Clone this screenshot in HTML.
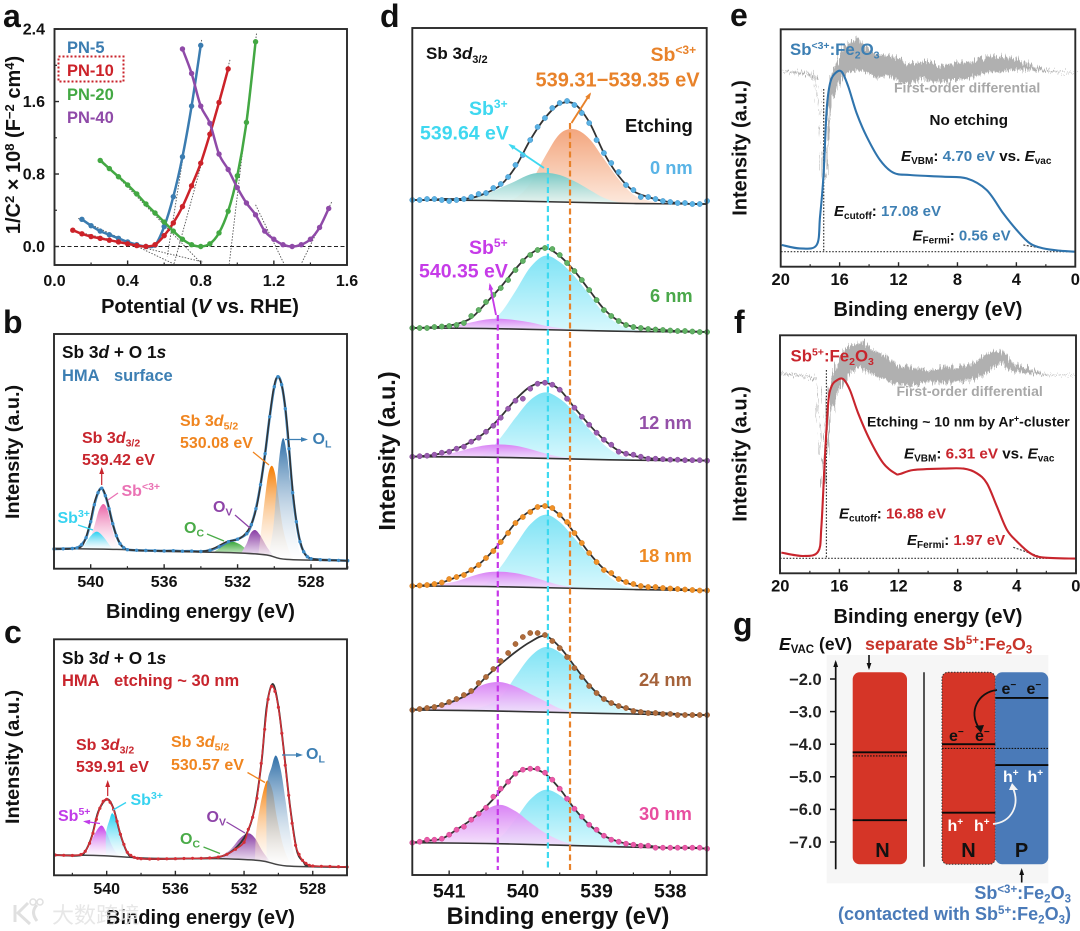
<!DOCTYPE html>
<html lang="en">
<head>
<meta charset="utf-8">
<title>Sb:Fe2O3 characterisation figure</title>
<style>
html,body{margin:0;padding:0;background:#fff}
svg{display:block}
text{font-family:"Liberation Sans","Noto Sans CJK SC",sans-serif;font-weight:bold}
.it{font-style:italic}
</style>
</head>
<body>
<svg id="chart" width="1080" height="931" viewBox="0 0 1080 931" xmlns="http://www.w3.org/2000/svg">
<defs id="defs">
<filter id="noisy" x="-3%" y="-10%" width="106%" height="120%">
<feTurbulence type="fractalNoise" baseFrequency="0.75 0.04" numOctaves="2" seed="3" result="n"/>
<feDisplacementMap in="SourceGraphic" in2="n" scale="13" xChannelSelector="R" yChannelSelector="G"/>
</filter>
</defs>
<rect width="1080" height="931" fill="#fff"/>
<g id="marks"></g>

<g font-size="32" fill="#111">
<text x="3" y="27">a</text>
<text x="3" y="333">b</text>
<text x="4" y="643">c</text>
<text x="380" y="27">d</text>
<text x="730" y="26">e</text>
<text x="734" y="333">f</text>
<text x="733" y="635">g</text>
</g>

<g>
<text x="200" y="313" font-size="20" text-anchor="middle" fill="#111">Potential (<tspan class="it">V</tspan> vs. RHE)</text>
<text transform="translate(20,145) rotate(-90)" font-size="20" text-anchor="middle" fill="#111">1/C<tspan dy="-6" font-size="13">2</tspan><tspan dy="6"> × 10</tspan><tspan dy="-6" font-size="13">8</tspan><tspan dy="6"> (F</tspan><tspan dy="-6" font-size="13">−2</tspan><tspan dy="6"> cm</tspan><tspan dy="-6" font-size="13">4</tspan><tspan dy="6">)</tspan></text>
<text x="67" y="53" font-size="16.5" fill="#3b7cb0">PN-5</text>
<rect x="58.5" y="56.5" width="65" height="25" fill="none" stroke="#c9232b" stroke-width="2" stroke-dasharray="2 2"/>
<text x="67" y="76" font-size="16.5" fill="#cc2229">PN-10</text>
<text x="67" y="100" font-size="16.5" fill="#43a843">PN-20</text>
<text x="67" y="123" font-size="16.5" fill="#8f4aa8">PN-40</text>
</g>

<g>
<text x="200.5" y="618" font-size="20" text-anchor="middle" fill="#111">Binding energy (eV)</text>
<text transform="translate(19,452) rotate(-90)" font-size="19.8" text-anchor="middle" fill="#111">Intensity (a.u.)</text>
<text x="62" y="358" font-size="17.3" fill="#111">Sb 3<tspan class="it">d</tspan> + O 1<tspan class="it">s</tspan></text>
<text x="62" y="381" font-size="16.5" fill="#3d7fb3">HMA</text>
<text x="114" y="381" font-size="16.5" fill="#3d7fb3">surface</text>
<text x="82" y="443" font-size="16" fill="#c8252d">Sb 3<tspan class="it">d</tspan><tspan dy="3.5" font-size="10.5">3/2</tspan></text>
<text x="82" y="465" font-size="16" fill="#c8252d">539.42 eV</text>
<text x="180" y="426" font-size="16" fill="#f0851f">Sb 3<tspan class="it">d</tspan><tspan dy="3.5" font-size="10.5">5/2</tspan></text>
<text x="180" y="448" font-size="16" fill="#f0851f">530.08 eV</text>
<text x="312.5" y="444" font-size="16" fill="#3d7fb3">O<tspan dy="3.5" font-size="10.5">L</tspan></text>
<text x="121.5" y="496" font-size="16" fill="#ea72b4">Sb<tspan dy="-6" font-size="10.5">&lt;3+</tspan></text>
<text x="57.5" y="523" font-size="16" fill="#37d3f0">Sb<tspan dy="-6" font-size="10.5">3+</tspan></text>
<text x="213" y="512" font-size="16" fill="#8e44a8">O<tspan dy="3.5" font-size="10.5">V</tspan></text>
<text x="184" y="533" font-size="16" fill="#4aab48">O<tspan dy="3.5" font-size="10.5">C</tspan></text>
</g>

<g>
<text x="200.5" y="924" font-size="20" text-anchor="middle" fill="#111">Binding energy (eV)</text>
<text transform="translate(19,757) rotate(-90)" font-size="19.8" text-anchor="middle" fill="#111">Intensity (a.u.)</text>
<text x="62" y="664" font-size="17.3" fill="#111">Sb 3<tspan class="it">d</tspan> + O 1<tspan class="it">s</tspan></text>
<text x="62" y="686" font-size="16.5" fill="#c8252d">HMA</text>
<text x="114" y="686" font-size="16.5" fill="#c8252d">etching ~ 30 nm</text>
<text x="76" y="750" font-size="16" fill="#c8252d">Sb 3<tspan class="it">d</tspan><tspan dy="3.5" font-size="10.5">3/2</tspan></text>
<text x="76" y="772" font-size="16" fill="#c8252d">539.91 eV</text>
<text x="171" y="747" font-size="16" fill="#f0851f">Sb 3<tspan class="it">d</tspan><tspan dy="3.5" font-size="10.5">5/2</tspan></text>
<text x="171" y="770" font-size="16" fill="#f0851f">530.57 eV</text>
<text x="306" y="759" font-size="16" fill="#3d7fb3">O<tspan dy="3.5" font-size="10.5">L</tspan></text>
<text x="58" y="821" font-size="16" fill="#c03be8">Sb<tspan dy="-6" font-size="10.5">5+</tspan></text>
<text x="130.5" y="805" font-size="16" fill="#37d3f0">Sb<tspan dy="-6" font-size="10.5">3+</tspan></text>
<text x="206.5" y="822" font-size="16" fill="#8e44a8">O<tspan dy="3.5" font-size="10.5">V</tspan></text>
<text x="180" y="844" font-size="16" fill="#4aab48">O<tspan dy="3.5" font-size="10.5">C</tspan></text>
</g>

<g>
<text x="558" y="924" font-size="23.6" text-anchor="middle" fill="#111">Binding energy (eV)</text>
<text transform="translate(395,451) rotate(-90)" font-size="23.5" text-anchor="middle" fill="#111">Intensity (a.u.)</text>
<text x="426" y="59" font-size="17" fill="#111">Sb 3<tspan class="it">d</tspan><tspan dy="4" font-size="11">3/2</tspan></text>
<text x="650.5" y="61" font-size="19.5" fill="#e8822a">Sb<tspan dy="-7" font-size="12">&lt;3+</tspan></text>
<text x="535.5" y="86.5" font-size="20" fill="#e8822a">539.31−539.35 eV</text>
<text x="625" y="132" font-size="18.5" fill="#111">Etching</text>
<text x="469" y="115" font-size="19.5" fill="#3fd8f0">Sb<tspan dy="-7" font-size="12">3+</tspan></text>
<text x="420" y="139.5" font-size="19.5" fill="#3fd8f0">539.64 eV</text>
<text x="469" y="254" font-size="19.5" fill="#c63be8">Sb<tspan dy="-7" font-size="12">5+</tspan></text>
<text x="419" y="277.5" font-size="19.5" fill="#c63be8">540.35 eV</text>
<text x="650" y="174" font-size="18.3" fill="#5ab4e6">0 nm</text>
<text x="650" y="302" font-size="18.3" fill="#4aa84a">6 nm</text>
<text x="639" y="429" font-size="18.3" fill="#9450a8">12 nm</text>
<text x="639" y="562" font-size="18.3" fill="#ee8a24">18 nm</text>
<text x="639" y="686" font-size="18.3" fill="#a5623a">24 nm</text>
<text x="639" y="820" font-size="18.3" fill="#e84ea0">30 nm</text>
</g>

<g>
<text x="928" y="316" font-size="20" text-anchor="middle" fill="#111">Binding energy (eV)</text>
<text transform="translate(746.5,148) rotate(-90)" font-size="20" text-anchor="middle" fill="#111">Intensity (a.u.)</text>
<text x="790" y="55" font-size="16.8" fill="#3d7fb3">Sb<tspan dy="-6" font-size="10.5">&lt;3+</tspan><tspan dy="6">:Fe</tspan><tspan dy="3.5" font-size="10.5">2</tspan><tspan dy="-3.5">O</tspan><tspan dy="3.5" font-size="10.5">3</tspan></text>
<text x="894" y="92.5" font-size="14" fill="#a8a8a8">First-order differential</text>
<text x="929.5" y="125" font-size="15.2" fill="#111">No etching</text>
<text x="901" y="161" font-size="15.2" fill="#111"><tspan class="it">E</tspan><tspan dy="3" font-size="10">VBM</tspan><tspan dy="-3">: </tspan><tspan fill="#3d7fb3">4.70 eV</tspan> vs. <tspan class="it">E</tspan><tspan dy="3" font-size="10">vac</tspan></text>
<text x="834" y="216" font-size="15" fill="#111"><tspan class="it">E</tspan><tspan dy="3" font-size="10">cutoff</tspan><tspan dy="-3">: </tspan><tspan fill="#3d7fb3">17.08 eV</tspan></text>
<text x="912.5" y="240.5" font-size="15" fill="#111"><tspan class="it">E</tspan><tspan dy="3" font-size="10">Fermi</tspan><tspan dy="-3">: </tspan><tspan fill="#3d7fb3">0.56 eV</tspan></text>
</g>

<g>
<text x="928" y="623" font-size="20" text-anchor="middle" fill="#111">Binding energy (eV)</text>
<text transform="translate(746.5,454) rotate(-90)" font-size="20" text-anchor="middle" fill="#111">Intensity (a.u.)</text>
<text x="790.5" y="361.5" font-size="16.8" fill="#c8252d">Sb<tspan dy="-6" font-size="10.5">5+</tspan><tspan dy="6">:Fe</tspan><tspan dy="3.5" font-size="10.5">2</tspan><tspan dy="-3.5">O</tspan><tspan dy="3.5" font-size="10.5">3</tspan></text>
<text x="896.5" y="396" font-size="14" fill="#a8a8a8">First-order differential</text>
<text x="867" y="426.5" font-size="14" fill="#111">Etching ~ 10 nm by Ar<tspan dy="-5" font-size="9">+</tspan><tspan dy="5">-cluster</tspan></text>
<text x="904" y="458.5" font-size="15.2" fill="#111"><tspan class="it">E</tspan><tspan dy="3" font-size="10">VBM</tspan><tspan dy="-3">: </tspan><tspan fill="#c8252d">6.31 eV</tspan> vs. <tspan class="it">E</tspan><tspan dy="3" font-size="10">vac</tspan></text>
<text x="839" y="518.5" font-size="15" fill="#111"><tspan class="it">E</tspan><tspan dy="3" font-size="10">cutoff</tspan><tspan dy="-3">: </tspan><tspan fill="#c8252d">16.88 eV</tspan></text>
<text x="907" y="545" font-size="15" fill="#111"><tspan class="it">E</tspan><tspan dy="3" font-size="10">Fermi</tspan><tspan dy="-3">: </tspan><tspan fill="#c8252d">1.97 eV</tspan></text>
</g>

<g>
<text x="779" y="650" font-size="17.5" fill="#111"><tspan class="it">E</tspan><tspan dy="3" font-size="11.5">VAC</tspan><tspan dy="-3"> (eV)</tspan></text>
<text x="865" y="650" font-size="17.8" fill="#c8352b">separate Sb<tspan dy="-6" font-size="11.5">5+</tspan><tspan dy="6">:Fe</tspan><tspan dy="3.5" font-size="11.5">2</tspan><tspan dy="-3.5">O</tspan><tspan dy="3.5" font-size="11.5">3</tspan></text>
<text x="1071" y="899" font-size="18" text-anchor="end" fill="#4a7ab8">Sb<tspan dy="-6" font-size="11.5">&lt;3+</tspan><tspan dy="6">:Fe</tspan><tspan dy="3.5" font-size="11.5">2</tspan><tspan dy="-3.5">O</tspan><tspan dy="3.5" font-size="11.5">3</tspan></text>
<text x="1071" y="920" font-size="18" text-anchor="end" fill="#4a7ab8">(contacted with Sb<tspan dy="-6" font-size="11.5">5+</tspan><tspan dy="6">:Fe</tspan><tspan dy="3.5" font-size="11.5">2</tspan><tspan dy="-3.5">O</tspan><tspan dy="3.5" font-size="11.5">3</tspan><tspan dy="-3.5">)</tspan></text>
</g>
<g id="g-top">
<text x="949" y="741" font-size="16" fill="#111">e<tspan dy="-6" font-size="10">−</tspan></text>
<text x="975" y="741" font-size="16" fill="#111">e<tspan dy="-6" font-size="10">−</tspan></text>
<text x="1001.5" y="694" font-size="16" fill="#111">e<tspan dy="-6" font-size="10">−</tspan></text>
<text x="1026.5" y="694" font-size="16" fill="#111">e<tspan dy="-6" font-size="10">−</tspan></text>
<text x="1003" y="782" font-size="16" fill="#fff">h<tspan dy="-6" font-size="10">+</tspan></text>
<text x="1027.5" y="782" font-size="16" fill="#fff">h<tspan dy="-6" font-size="10">+</tspan></text>
<text x="947.5" y="831" font-size="16" fill="#fff">h<tspan dy="-6" font-size="10">+</tspan></text>
<text x="974" y="831" font-size="16" fill="#fff">h<tspan dy="-6" font-size="10">+</tspan></text>
<text x="882.5" y="857" font-size="20" text-anchor="middle" fill="#111">N</text>
<text x="968.5" y="857" font-size="20" text-anchor="middle" fill="#111">N</text>
<text x="1021.5" y="857" font-size="20" text-anchor="middle" fill="#111">P</text>
</g>

<g opacity="0.88">
<path d="M15 905 V922 M28 903 L18 913 L30 924 M37 905 Q30 912 37 921" fill="none" stroke="#dcdcdc" stroke-width="3"/>
<circle cx="33" cy="902" r="3" fill="none" stroke="#dcdcdc" stroke-width="1.5"/>
<circle cx="40" cy="902" r="3" fill="none" stroke="#dcdcdc" stroke-width="1.5"/>
<text x="52" y="923" font-size="22" fill="#e4e4e4" style="font-weight:normal">大数跨境</text>
</g>

<script>
// ---------- Panel a: Mott-Schottky ----------
const aPotential5 = [0.15,0.2,0.25,0.3,0.35,0.4,0.45,0.5,0.55,0.6,0.65,0.7,0.75,0.8];
const aPN5 = [0.30,0.23,0.17,0.13,0.09,0.05,0.02,0,0.015,0.22,0.55,0.99,1.55,2.22];
const aPotential10 = [0.1,0.15,0.2,0.25,0.3,0.35,0.4,0.45,0.5,0.55,0.6,0.65,0.7,0.75,0.8,0.85,0.9,0.95];
const aPN10 = [0.18,0.14,0.11,0.09,0.07,0.05,0.03,0.01,0,0.02,0.12,0.26,0.44,0.67,0.92,1.24,1.59,1.96];
const aPotential20 = [0.25,0.3,0.35,0.4,0.45,0.5,0.55,0.6,0.65,0.7,0.75,0.8,0.85,0.9,0.95,1.0,1.05,1.1];
const aPN20 = [0.95,0.86,0.77,0.68,0.58,0.47,0.37,0.27,0.17,0.08,0.02,0,0.03,0.15,0.39,0.78,1.37,2.26];
const aPotential40 = [0.7,0.75,0.8,0.85,0.9,0.95,1.0,1.05,1.1,1.15,1.2,1.25,1.3,1.35,1.4,1.45,1.5];
const aPN40 = [2.18,1.91,1.55,1.36,1.02,0.85,0.65,0.48,0.35,0.17,0.08,0.02,0,0.02,0.08,0.21,0.42];
const aTangentV = [[0.805,0.617],[0.96,0.654],[1.105,0.956],[1.516,1.35],[1.1,1.26],[0.25,0.805],[0.13,0.65],[0.09,0.81]];
const aTangentY = [[2.28,-0.11],[2.06,-0.19],[2.35,-0.19],[0.49,-0.19],[0.46,-0.21],[0.97,-0.19],[0.31,-0.19],[0.18,-0.17]];
const aXTickLabels = ['0.0','0.4','0.8','1.2','1.6'];
const aYTickLabels = ['0.0','0.8','1.6','2.4'];

// ---------- Panel b: XPS surface ----------
const bTickLabels = ['540','536','532','528'];
const bFitBE = [541.98,541.31,540.58,540.31,540.04,539.76,539.40,539.09,538.86,538.58,538.31,538.04,537.31,535.86,534.04,533.32,532.59,531.87,531.32,530.96,530.60,530.32,530.05,529.81,529.54,529.29,529.05,528.78,528.51,528.24,527.69,526.06];
const bFit = [19.7,19.7,21.3,28.7,45.3,68.7,80.3,67,48.7,32,22.7,19.3,18,18,17.3,20.3,27,30.3,42,62,102,142,178.7,192,178.7,142,88.7,45.3,22,12.7,9.3,8];
const bDataBE = [542,541.5,541,540.75,540.5,540.25,540,539.8,539.6,539.4,539.2,539,538.8,538.6,538.4,538.2,538,537.5,537,536.5,536,535.5,535,534.5,534,533.5,533,532.5,532,531.5,531.25,531,530.75,530.5,530.25,530,529.8,529.6,529.4,529.2,529,528.8,528.6,528.4,528.2,528,527.5,527,526.5,526];
const bData = [19.7,19.9,20.2,20.8,24,31,47,64,76,80.5,73,60,45,33,25,21,19,18.4,18.2,18,17.7,18,17.5,17.6,17.2,18.5,22,27,29.5,35,44,60,84,115,152,182,192,184,160,120,76,47,27,17,12,10,9,8.6,8.3,8];
const bBaseBE = [541.98,538.58,535.86,532.23,530.41,529.32,526.06];
const bBase = [20.3,19.3,17.3,16,13.7,9.3,8];
const bPinkBE = [540.31,540.04,539.76,539.55,539.31,539.09,538.86,538.62,538.37];
const bPink = [20.3,28.7,45.3,58.7,64.7,58.7,42,27,19.3];
const bCyanBE = [540.49,540.22,539.95,539.64,539.31,539.04,538.80];
const bCyan = [20,27,33.7,37,32,25.3,19.3];
const bGreenBE = [533.32,532.87,532.50,532.23,531.87,531.50,531.14];
const bGreen = [16.3,22,26,27,24.3,19.3,16.3];
const bVioletBE = [531.78,531.50,531.29,531.05,530.78,530.41,530.14];
const bViolet = [16.3,25.3,35.3,38.7,33.7,22,15.3];
const bOrangeBE = [530.87,530.69,530.50,530.32,530.14,529.96,529.78,529.51,529.14,528.87];
const bOrange = [13.7,42,72,95.3,103,95.3,72,38.7,15.3,10.3];
const bBlueBE = [530.32,530.05,529.78,529.54,529.32,529.11,528.87,528.60,528.33];
const bBlue = [13.7,42,102,130.3,115.3,82,42,15.3,9.3];

// ---------- Panel c: XPS etched ----------
const cFitBE = [543.07,541.65,541.26,540.87,540.49,540,539.61,539.22,538.83,538.45,537.48,535.53,533.59,532.62,531.84,531.36,530.97,530.68,530.33,530,529.71,529.32,528.93,528.54,528.16,526.02];
const cFit = [20.3,19.7,23.7,38.7,63.7,76,67,42,23.7,18,16.3,16.7,18,25.3,42,68.7,115.3,168.7,191.3,168.7,128.7,68.7,25.3,13.7,9.3,8.3];
const cDataBE = [543,542.5,542,541.5,541.25,541,540.8,540.6,540.4,540.2,540,539.8,539.6,539.4,539.2,539,538.8,538.6,538.4,538.2,538,537.5,537,536.5,536,535.5,535,534.5,534,533.5,533,532.5,532,531.75,531.5,531.25,531,530.8,530.6,530.4,530.2,530,529.8,529.6,529.4,529.2,529,528.8,528.6,528.4,528.2,528,527.5,527,526.5,526];
const cData = [20.3,20,19.8,20.8,24,32,42,56,67,74,76,73,66,54,41,31,23,20,18,17,16.6,16.3,16.3,16.5,16.6,16.8,17,17,17.3,18.2,21,26,33,46,58,77,112,146,176,189,184,168,142,110,80,52,30,21,15,12,10,9.3,9,8.8,8.6,8.3];
const cBaseBE = [543.07,540.39,537.48,533.59,531.07,529.51,526.02];
const cBase = [20.3,19.7,17,16.7,14.7,9.3,8.3];
const cPurpleBE = [541.36,541.07,540.78,540.33,540,539.71,539.42,539.13];
const cPurple = [20,25.3,38.7,49.7,42,30.3,22,18];
const cCyanBE = [540.04,540.04,539.84,539.67,539.42,539.18,538.87,538.54];
const cCyan = [18.7,42,55.3,62,53.7,38.7,23.7,18];
const cGreenBE = [533.59,533.01,532.23];
const cGreen = [18.7,20,16.7];
const cVioletBE = [533.50,532.82,532.23,531.75,531.36,530.97,530.58];
const cViolet = [18,25.3,37,42,37,25.3,16];
const cOrangeBE = [531.36,531.30,531.07,530.78,530.58,530.33,530.10,529.71,529.32];
const cOrange = [15.3,42,68.7,90.3,94.3,83.7,58.7,28.7,12];
const cBlueBE = [530.68,530.68,530.39,530.14,529.86,529.59,529.32,529.03];
const cBlue = [15.3,85.3,108.7,119.7,105.3,75.3,42,15.3];

// ---------- Panel d: Sb 3d3/2 depth profile ----------
const dTickLabels = ['541','540','539','538'];
const dDotBE = [541.5,541.4,541.3,541.2,541.1,541,540.9,540.8,540.7,540.6,540.5,540.4,540.3,540.2,540.1,540,539.9,539.8,539.7,539.6,539.5,539.4,539.3,539.2,539.1,539,538.9,538.8,538.7,538.6,538.5,538.4,538.3,538.2,538.1,538,537.9,537.8,537.7,537.6,537.5];
const dFitBE = [541.5,541.3,541.1,540.9,540.7,540.5,540.3,540.1,539.9,539.7,539.5,539.3,539.1,538.9,538.7,538.5,538.3,538.1,537.9,537.7,537.5];
const dBaseBE = [541.5,540.5,539.5,538.5,537.5];
const dDots0 = [0,0,1,1,0,-1,0,1,3,6,7,12,16,23,35,45,60,73,82,92,97,99,95,87,77,60,47,37,28,15,10,3,3,1,-1,-2,-3,-3,-4,-4,-1];
const dFit0 = [0,0,1,1,2,7,15,33,60,82,96,96,78,47,24,9,3,-1,-3,-4,-4];
const dOrange0 = [0,0,0,0,0,0,0,3,18,45,68,73,64,44,24,9,3,0,0,0,0];
const dTeal0 = [0,0,0,1,2,6,13,20,27,29,27,21,13,5,1,0,0,0,0,0,0];
const dBase0 = [0,-0.5,-2,-3.5,-4];
const dDots6 = [0,0,0,1,1.5,2,3,5,12,18,26,33,40,48,58,67,73,78,80,79,73,65,57,48,38,28,18,12,7,3,1,0,-1,-1.5,-2,-2.5,-3,-3,-3.5,-4,-4];
const dFit6 = [0,0.5,1.5,4,10,25,41,59,74,80,72,57,38,19,7,1,-1,-2,-3,-3.5,-4];
const dCyan6 = [0,0,0,0,1,4,16,38,62,74,68,54,36,18,7,2,0,0,0,0,0];
const dPurple6 = [0,0,1,3,6,9,10,9,7,4,2,0,0,0,0,0,0,0,0,0,0];
const dBase6 = [0,-0.5,-2,-3.5,-4];
const dDots12 = [0,0.5,1,2,4,5,8,10,15,19,25,31,39,48,56,58,68,73,74,72,67,58,49,40,32,24,17,12,5,3,2,0,-2,-2,-2.5,-3,-3,-3.5,-3.5,-3.5,-4];
const dFit12 = [0,1,3.5,8,15,25,40,57,70,74,67,49,32,17,6,1,-1.5,-2.5,-3,-3.5,-4];
const dCyan12 = [0,0,0,0,1,4,20,40,58,66,60,47,30,15,5,1,0,0,0,0,0];
const dPurple12 = [0,0,2,5,9,12,13,12,9,5,2,1,0,0,0,0,0,0,0,0,0];
const dBase12 = [0,-0.5,-2,-3.5,-4];
const dDots18 = [0,0.5,1,2,3.5,7,9,11,16,21,28,35,44,53,63,69,74,79,80,78,71,64,53,43,33,24,16,13,7,4,2,0,-1,-1,-2,-2.5,-3,-3.5,-4,-4.5,-4.5];
const dFit18 = [0,1,3.5,9,16,28,44,63,75,80,71,53,33,17,7,1,-1,-2,-3,-4,-4.5];
const dCyan18 = [0,0,0,0,1,3,20,42,63,73,66,50,33,17,6,1,0,0,0,0,0];
const dPurple18 = [0,0,2,5,10,14,15,14,11,7,3,1,0,0,0,0,0,0,0,0,0];
const dBase18 = [0,-0.5,-2,-3.5,-4.5];
const dDots24 = [0,1,2,3,5,8,11,15,19,27,33,41,49,57,66,73,77,77,75,69,62,53,42,33,24,17,11,7,4,2,-1,-2,-3,-3,-4,-4,-5,-5,-5,-5,-5];
const dFit24 = [0,2,5,10,18,33,46,58,68,74,63,44,25,11,4,0,-2,-3,-4,-5,-5];
const dCyan24 = [0,0,0,0,2,5,14,35,55,65,60,46,30,15,6,1,0,0,0,0,0];
const dPurple24 = [0,2,4,11,20,27,29,25,18,11,4,1,0,0,0,0,0,0,0,0,0];
const dBase24 = [0,-0.8,-2.5,-4,-5];
const dDots30 = [0,1,3,3,4,8,13,16,23,29,35,46,54,61,69,73,74,74,70,63,54,44,34,26,18,13,7,3,1,-1,-2,-3,-3,-5,-5,-5,-5,-5,-5,-5,-6];
const dFit30 = [0,2,4,13,23,36,52,69,74,69,54,34,18,7,1,-2,-3,-5,-5,-5,-6];
const dCyan30 = [0,0,0,0,0,1,7,25,45,55,50,37,23,12,5,1,0,0,0,0,0];
const dPurple30 = [0,1,4,12,22,34,39,33,22,12,5,1,0,0,0,0,0,0,0,0,0];
const dBase30 = [0,-0.8,-2.5,-4.5,-5.7];

// ---------- Panels e, f: UPS ----------
const upsTickLabels = ['20','16','12','8','4','0'];
const eEnergy = [19.93,18.69,17.56,17.33,17.10,16.88,16.65,16.31,15.86,15.41,14.84,14.16,13.26,12.35,11.22,8.96,7.38,6.02,4.89,3.98,3.08,2.17,1.04,0];
const eIntensity = [21.7,18.3,21.7,50,90,156.7,183.3,193.3,195,180,153.3,130,106.7,94,91.7,90,88.3,76.7,53.3,36.7,23.3,18.3,16,15];
const eDiffEnergy = [19.93,18.01,17.60,17.44,17.26,17.10,16.92,16.76,16.54,16.20,15.86,15.52,15.07,14.73,14.39,13.94,13.48,12.81,12.13,11.45,10.77,10.32,9.64,8.96,8.28,7.60,6.92,6.24,5.57,4.89,4.21,3.53,2.85,2.17,1.49,0];
const eDiffUpper = [196.6,193.4,191.2,166.7,120,100,140,176.7,195,205,216.7,223.3,226.7,229.3,221.7,216.7,211.7,211.7,208.3,203.3,203.3,206.7,203.3,200,203.3,205,205,210,211.7,210,208.3,205,201.2,197.8,195.6,193.6];
const eDiffLower = [195.4,191.3,187.2,160,110,86.7,90,133.3,166.7,176.7,186.7,195,195,196.7,195,193.3,188.3,191.7,186.7,183.3,186.7,188.3,185,185,186.7,186.7,190,193.3,195,195,196.7,197,196.5,195.5,194.4,193.1];
const fEnergy = [19.93,18.46,17.44,17.22,16.99,16.76,16.54,16.20,15.75,15.29,14.73,13.94,13.03,12.24,11.90,11.0,8.96,7.60,6.70,6.02,5.34,4.66,3.98,3.08,2.17,0];
const fIntensity = [20.7,17.3,21.7,46.7,113.3,170,186.7,192.7,194.3,183.3,160,133.3,110,100,99.3,103.3,104.7,104.7,100,90,66.7,43.3,31.7,20,15.7,14.7];
const fDiffEnergy = [19.93,18.01,17.56,17.42,17.22,17.06,16.88,16.70,16.47,16.09,15.75,15.29,14.84,14.46,13.94,13.26,12.58,11.90,11.22,10.54,9.86,8.96,8.05,7.38,6.70,6.02,5.57,5.11,4.66,4.21,3.53,2.85,2.17,0];
const fDiffUpper = [200.6,197.3,195,176.7,130,96.7,146.7,180,200,213.3,221.7,228.3,230,231.7,225,220,213.3,206.7,205,205,203.3,205,206.7,208.3,211.7,220,221.7,222.7,218.3,210,206.7,203.3,199,198.2];
const fDiffLower = [199,196,192.7,166.7,113.3,83.3,90,146.7,166.7,180,190,200,203.3,205,200,195,191.7,188.3,188.3,188.3,190,191.7,191.7,191.7,195,200,206.7,210,205,201.7,200,199.5,198,197.8];

// ---------- Panel g: band diagram ----------
const gTickValues = [-2,-3,-4,-5,-6,-7];
const gTickLabels = ['−2.0','−3.0','−4.0','−5.0','−6.0','−7.0'];
const gSeparateLevels = [-4.25,-6.33];
const gSeparateFermi = -4.36;
const gContactNLevels = [-4.0,-6.1];
const gContactPLevels = [-2.58,-4.64];
const gContactFermi = -4.13;

// ---------- helpers ----------
const NS = 'http://www.w3.org/2000/svg';
const root = document.getElementById('marks');
const defs = document.getElementById('defs');
function mk(tag, name, attrs, parent) {
  const el = document.createElementNS(NS, tag);
  
  
  for (const k in attrs) el.setAttribute(k, attrs[k]);
  (parent || root).appendChild(el);
  return el;
}
function spline(pts, move) {
  let d = (move === false ? 'L' : 'M') + pts[0][0].toFixed(2) + ' ' + pts[0][1].toFixed(2);
  for (let i = 0; i < pts.length - 1; i++) {
    const p0 = pts[Math.max(0, i - 1)], p1 = pts[i], p2 = pts[i + 1], p3 = pts[Math.min(pts.length - 1, i + 2)];
    const c1x = p1[0] + (p2[0] - p0[0]) / 6, c1y = p1[1] + (p2[1] - p0[1]) / 6;
    const c2x = p2[0] - (p3[0] - p1[0]) / 6, c2y = p2[1] - (p3[1] - p1[1]) / 6;
    d += 'C' + c1x.toFixed(2) + ' ' + c1y.toFixed(2) + ' ' + c2x.toFixed(2) + ' ' + c2y.toFixed(2) + ' ' + p2[0].toFixed(2) + ' ' + p2[1].toFixed(2);
  }
  return d;
}
function zip(xs, ys, fx, fy) { return xs.map((x, i) => [fx(x), fy(ys[i])]); }
let gradCount = 0;
function gradient(top, bottom, bottomOpacity) {
  const id = 'grad' + (gradCount++);
  const g = document.createElementNS(NS, 'linearGradient');
  g.setAttribute('id', id);
  g.setAttribute('x1', '0'); g.setAttribute('x2', '0'); g.setAttribute('y1', '0'); g.setAttribute('y2', '1');
  const s1 = document.createElementNS(NS, 'stop');
  s1.setAttribute('offset', '0'); s1.setAttribute('stop-color', top);
  const s2 = document.createElementNS(NS, 'stop');
  s2.setAttribute('offset', '1'); s2.setAttribute('stop-color', bottom);
  s2.setAttribute('stop-opacity', bottomOpacity === undefined ? 1 : bottomOpacity);
  g.appendChild(s1); g.appendChild(s2); defs.appendChild(g);
  return 'url(#' + id + ')';
}
function frame(name, x0, y0, x1, y1) {
  mk('rect', name, {x:x0, y:y0, width:x1-x0, height:y1-y0, fill:'none', stroke:'#2a2a2a', 'stroke-width':1.9});
}
function xTicks(prefix, values, labels, minors, fx, yBottom, labelY, size) {
  values.forEach((v, i) => {
    mk('line', prefix + '-x-tick', {x1:fx(v), x2:fx(v), y1:yBottom, y2:yBottom-4.5, stroke:'#2a2a2a', 'stroke-width':1.4});
    const t = mk('text', prefix + '-x-tick-label', {x:fx(v), y:labelY, 'font-size':size, 'text-anchor':'middle', fill:'#111'});
    t.textContent = labels[i];
  });
  minors.forEach(v => {
    mk('line', prefix + '-x-minor-tick', {x1:fx(v), x2:fx(v), y1:yBottom, y2:yBottom-2.5, stroke:'#2a2a2a', 'stroke-width':1.2});
  });
}
function arrow(name, x1, y1, x2, y2, color, w) {
  mk('line', name, {x1:x1, y1:y1, x2:x2, y2:y2, stroke:color, 'stroke-width':w||1.3});
  const a = Math.atan2(y2-y1, x2-x1), L = 5, H = 2.4;
  const p = [[x2+Math.cos(a)*2, y2+Math.sin(a)*2],
             [x2-Math.cos(a)*L+Math.sin(a)*H, y2-Math.sin(a)*L-Math.cos(a)*H],
             [x2-Math.cos(a)*L-Math.sin(a)*H, y2-Math.sin(a)*L+Math.cos(a)*H]];
  mk('polygon', name + '-head', {points:p.map(q=>q.join(',')).join(' '), fill:color});
}
function leader(name, x1, y1, x2, y2, color, w) {
  mk('line', name, {x1:x1, y1:y1, x2:x2, y2:y2, stroke:color, 'stroke-width':w||1.2});
}

// ---------- axes ----------
const xA = v => 54.5 + v * 182.8;
const yA = v => 246.5 - v * 90.6;
const xB = e => 90.7 + (540 - e) * 18.36;
const yB = v => 568.7 - v;
const xC = e => 106.7 + (540 - e) * 17.17;
const yC = v => 875.3 - v;
const xD = e => 412.3 + (541.5 - e) * 73.7;
const yD = v => 875 - v;
const xE = e => 780.7 + (20 - e) * 14.73;
const yE = v => 266.7 - v;
const xF = e => 780.3 + (20 - e) * 14.78;
const yF = v => 573.3 - v;
const yG = v => 679 + (-2 - v) * 32.6;

// ---------- panel a ----------
mk('line', 'zero-reference-line', {x1:xA(0), x2:xA(1.6), y1:yA(0), y2:yA(0), stroke:'#222', 'stroke-width':1, 'stroke-dasharray':'4 2.5'});
aTangentV.forEach((pair, i) => {
  mk('line', 'tangent-line', {x1:xA(pair[0]), x2:xA(pair[1]), y1:yA(aTangentY[i][0]), y2:yA(aTangentY[i][1]), stroke:'#555', 'stroke-width':0.9, 'stroke-dasharray':'1.5 1.5'});
});
function seriesA(name, xs, ys, color) {
  mk('path', name + '-line', {d:spline(zip(xs, ys, xA, yA)), fill:'none', stroke:color, 'stroke-width':2.5});
  xs.forEach((x, i) => {
    mk('circle', name + '-point', {cx:xA(x), cy:yA(ys[i]), r:2.7, fill:color});
  });
}
seriesA('pn-5', aPotential5, aPN5, '#3b7cb0');
seriesA('pn-10', aPotential10, aPN10, '#cc2229');
seriesA('pn-20', aPotential20, aPN20, '#43a843');
seriesA('pn-40', aPotential40, aPN40, '#8f4aa8');
frame('plot-frame-a', 54.5, 29, 347, 265);
xTicks('a', aXTickLabels.map(Number), aXTickLabels, [0.2,0.6,1.0,1.4], xA, 265, 286, 16);
aYTickLabels.forEach(l => {
  const v = Number(l);
  mk('line', 'a-y-tick', {x1:54.5, x2:59, y1:yA(v), y2:yA(v), stroke:'#2a2a2a', 'stroke-width':1.4});
  const t = mk('text', 'a-y-tick-label', {x:45, y:yA(v)+5.5, 'font-size':16, 'text-anchor':'end', fill:'#111'});
  t.textContent = l;
});
[0.4,1.2,2.0].forEach(v => {
  mk('line', 'a-y-minor-tick', {x1:54.5, x2:57, y1:yA(v), y2:yA(v), stroke:'#2a2a2a', 'stroke-width':1.2});
});

// ---------- panels b, c ----------
function interp(x, xs, ys) {
  for (let i = 0; i < xs.length - 1; i++) {
    if (x <= xs[i] && x >= xs[i+1]) {
      const t = (xs[i] - x) / (xs[i] - xs[i+1]);
      return ys[i] + t * (ys[i+1] - ys[i]);
    }
  }
  return ys[ys.length-1];
}
function peakOnBase(name, xs, ys, fx, fy, baseXs, baseYs, fill) {
  const pts = zip(xs, ys, fx, fy);
  const low = xs.slice().reverse().map(x => [fx(x), fy(interp(x, baseXs, baseYs))]);
  let d = spline(pts);
  low.forEach(p => { d += 'L' + p[0].toFixed(2) + ' ' + p[1].toFixed(2); });
  mk('path', name, {d:d + 'Z', fill:fill});
}
peakOnBase('peak-sb-lt3-b', bPinkBE, bPink, xB, yB, bBaseBE, bBase, gradient('#e95fa4','#ffffff',0.4));
peakOnBase('peak-sb3-b', bCyanBE, bCyan, xB, yB, bBaseBE, bBase, gradient('#28d2f2','#ffffff',0.6));
peakOnBase('peak-oc-b', bGreenBE, bGreen, xB, yB, bBaseBE, bBase, gradient('#3aa63a','#cdebc9'));
peakOnBase('peak-ov-b', bVioletBE, bViolet, xB, yB, bBaseBE, bBase, gradient('#8a3ea5','#f2e8f5'));
peakOnBase('peak-sb3d52-b', bOrangeBE, bOrange, xB, yB, bBaseBE, bBase, gradient('#f57c00','#ffffff',0.3));
peakOnBase('peak-ol-b', bBlueBE, bBlue, xB, yB, bBaseBE, bBase, gradient('#2f6fa8','#ffffff',0.3));
mk('path', 'data-line-b', {d:spline(zip(bDataBE, bData, xB, yB)), fill:'none', stroke:'#3d82b8', 'stroke-width':2.5});
mk('path', 'baseline-b', {d:spline(zip(bBaseBE, bBase, xB, yB)), fill:'none', stroke:'#444', 'stroke-width':1.5});
mk('path', 'fit-line-b', {d:spline(zip(bFitBE, bFit, xB, yB)), fill:'none', stroke:'#333', 'stroke-width':1.5});
bDataBE.forEach((e, i) => {
  mk('circle', 'data-point-b', {cx:xB(e), cy:yB(bData[i]), r:1.7, fill:'#3d8cc8'});
});
frame('plot-frame-b', 54, 334, 347, 568.7);
xTicks('b', [540,536,532,528], bTickLabels, [538,534,530,542,526], xB, 568.7, 587, 16);
arrow('arrow-sb3d32-b', 101.7, 485, 101.7, 469, '#c8252d', 1.2);
leader('leader-sb-lt3-b', 118, 493, 108, 500, '#ea72b4', 1.3);
leader('leader-sb3-b', 78, 525, 93, 530, '#37d3f0', 1.3);
leader('leader-sb3d52-b', 253, 452, 269, 465, '#f0851f', 1.3);
arrow('arrow-ol-b', 285, 439.5, 306, 439.5, '#3d7fb3', 1.3);
leader('leader-ov-b', 235, 515, 250, 528, '#8e44a8', 1.3);
leader('leader-oc-b', 207, 534, 224, 541, '#4aab48', 1.3);

peakOnBase('peak-sb5-c', cPurpleBE, cPurple, xC, yC, cBaseBE, cBase, gradient('#c43be8','#ffffff',0.5));
peakOnBase('peak-sb3-c', cCyanBE, cCyan, xC, yC, cBaseBE, cBase, gradient('#20cff0','#ffffff',0.5));
peakOnBase('peak-oc-c', cGreenBE, cGreen, xC, yC, cBaseBE, cBase, gradient('#3aa63a','#a8dba4'));
peakOnBase('peak-ov-c', cVioletBE, cViolet, xC, yC, cBaseBE, cBase, gradient('#8a3ea5','#f2e8f5'));
peakOnBase('peak-sb3d52-c', cOrangeBE, cOrange, xC, yC, cBaseBE, cBase, gradient('#f57c00','#ffffff',0.3));
peakOnBase('peak-ol-c', cBlueBE, cBlue, xC, yC, cBaseBE, cBase, gradient('#2f6fa8','#ffffff',0.3));
mk('path', 'baseline-c', {d:spline(zip(cBaseBE, cBase, xC, yC)), fill:'none', stroke:'#444', 'stroke-width':1.5});
mk('path', 'fit-line-c', {d:spline(zip(cFitBE, cFit, xC, yC)), fill:'none', stroke:'#333', 'stroke-width':1.9});
mk('path', 'data-line-c', {d:spline(zip(cDataBE, cData, xC, yC)), fill:'none', stroke:'#cf2f36', 'stroke-width':1.5});
cDataBE.forEach((e, i) => {
  mk('circle', 'data-point-c', {cx:xC(e), cy:yC(cData[i]), r:1.6, fill:'#d22f37'});
});
frame('plot-frame-c', 54, 639.3, 347, 875.3);
xTicks('c', [540,536,532,528], bTickLabels, [542,538,534,530,526], xC, 875.3, 894, 16);
arrow('arrow-sb3d32-c', 107.7, 796, 107.7, 782, '#c8252d', 1.2);
arrow('arrow-sb5-c', 100, 823.5, 85, 821.5, '#c03be8', 1.2);
leader('leader-sb3-c', 126, 802.5, 113, 810, '#37d3f0', 1.3);
leader('leader-sb3d52-c', 247.5, 772.5, 265, 782.5, '#f0851f', 1.3);
arrow('arrow-ol-c', 282, 755, 301, 755, '#3d7fb3', 1.3);
leader('leader-ov-c', 226.5, 822, 245, 833, '#8e44a8', 1.3);
leader('leader-oc-c', 203.5, 847, 220, 853.5, '#4aab48', 1.3);

// ---------- panel d ----------
const dCyanFill = gradient('#7fe3f5','#d8f8fd');
const dPurpleFill = gradient('#d983f5','#f3defb', 0.85);
const dOrangeFill = gradient('#f3a67e','#fde9dd');
const dTealFill = gradient('#79c9c5','#e6f6f3', 0.85);
function bodyD(name, offset, fit, base, peakA, fillA, peakB, fillB) {
  const y = v => yD(v + offset);
  const pk = (nm, arr, fill) => {
    const idx = arr.map((h, i) => h > 0 ? i : -1).filter(i => i >= 0);
    if (!idx.length) return;
    const i0 = Math.max(0, idx[0] - 1), i1 = Math.min(arr.length - 1, idx[idx.length-1] + 1);
    const xs = dFitBE.slice(i0, i1 + 1);
    const ys = xs.map((e, i) => interp(e, dBaseBE, base) + arr[i0 + i]);
    peakOnBase(nm, xs, ys, xD, y, dBaseBE, base, fill);
  };
  pk('peak-a-' + name, peakA, fillA);
  pk('peak-b-' + name, peakB, fillB);
  mk('path', 'baseline-' + name, {d:spline(zip(dBaseBE, base, xD, y)), fill:'none', stroke:'#333', 'stroke-width':1.6});
  mk('path', 'fit-line-' + name, {d:spline(zip(dFitBE, fit, xD, y)), fill:'none', stroke:'#333', 'stroke-width':1.8});
}
function dotsD(name, offset, dots, color, edge) {
  dDotBE.forEach((e, i) => {
    mk('circle', 'data-point-' + name, {cx:xD(e), cy:yD(dots[i] + offset), r:2.6, fill:color, stroke:edge, 'stroke-width':0.5});
  });
}
bodyD('0nm', 675, dFit0, dBase0, dOrange0, dOrangeFill, dTeal0, dTealFill);
bodyD('6nm', 547, dFit6, dBase6, dCyan6, dCyanFill, dPurple6, dPurpleFill);
bodyD('12nm', 418.3, dFit12, dBase12, dCyan12, dCyanFill, dPurple12, dPurpleFill);
bodyD('18nm', 289, dFit18, dBase18, dCyan18, dCyanFill, dPurple18, dPurpleFill);
bodyD('24nm', 165, dFit24, dBase24, dCyan24, dCyanFill, dPurple24, dPurpleFill);
bodyD('30nm', 32.3, dFit30, dBase30, dCyan30, dCyanFill, dPurple30, dPurpleFill);
mk('line', 'marker-line-sb5', {x1:xD(540.34), x2:xD(540.34), y1:315, y2:870, stroke:'#c637e8', 'stroke-width':2.2, 'stroke-dasharray':'6 3.5'});
mk('line', 'marker-line-sb3', {x1:xD(539.66), x2:xD(539.66), y1:168, y2:870, stroke:'#3ed9f0', 'stroke-width':2.2, 'stroke-dasharray':'6 3.5'});
mk('line', 'marker-line-sb-lt3', {x1:xD(539.36), x2:xD(539.36), y1:123, y2:870, stroke:'#e8822a', 'stroke-width':2.2, 'stroke-dasharray':'6 3.5'});
dotsD('0nm', 675, dDots0, '#5ab2e4', '#3f8fc5');
dotsD('6nm', 547, dDots6, '#62b265', '#3f8f45');
dotsD('12nm', 418.3, dDots12, '#9a5cb0', '#7c4392');
dotsD('18nm', 289, dDots18, '#ef9128', '#d87a18');
dotsD('24nm', 165, dDots24, '#b06c3c', '#8f5428');
dotsD('30nm', 32.3, dDots30, '#ea5aa8', '#d04090');
frame('plot-frame-d', 412.3, 28, 706.7, 875);
xTicks('d', [541,540,539,538], dTickLabels, [540.5,539.5,538.5], xD, 875, 897.5, 19.5);
arrow('arrow-sb-lt3-d', 571.5, 123, 590, 94, '#e8822a', 1.9);
arrow('arrow-sb3-d', 544, 168, 510, 145, '#3fd8f0', 1.9);
arrow('arrow-sb5-d', 496, 315, 490, 285, '#c63be8', 1.9);

// ---------- panels e, f ----------
function bandPath(xs, up, low, fx, fy) {
  const a = xs.map((x, i) => fx(x).toFixed(2) + ',' + fy(up[i]).toFixed(2));
  const b = xs.map((x, i) => fx(x).toFixed(2) + ',' + fy(low[i]).toFixed(2)).reverse();
  return a.concat(b).join(' ');
}
mk('polygon', 'differential-band-e', {points:bandPath(eDiffEnergy, eDiffUpper, eDiffLower, xE, yE), fill:'#b0b0b0', filter:'url(#noisy)'});
mk('line', 'vacuum-baseline-e', {x1:781, x2:1075, y1:251.7, y2:251.7, stroke:'#333', 'stroke-width':1.2, 'stroke-dasharray':'1.6 1.6'});
mk('line', 'ecutoff-line-e', {x1:xE(17.08), x2:xE(17.08), y1:89, y2:251.7, stroke:'#333', 'stroke-width':1.2, 'stroke-dasharray':'1.6 1.6'});
mk('line', 'efermi-tangent-e', {x1:1023.3, y1:245, x2:1043.3, y2:248.3, stroke:'#333', 'stroke-width':1.1, 'stroke-dasharray':'2 1.5'});
mk('path', 'spectrum-line-e', {d:spline(zip(eEnergy, eIntensity, xE, yE)), fill:'none', stroke:'#2f74ad', 'stroke-width':2.1});
frame('plot-frame-e', 780.7, 29.3, 1075.3, 266.7);
xTicks('e', [20,16,12,8,4,0], upsTickLabels, [18,14,10,6,2], xE, 266.7, 285, 16.5);

mk('polygon', 'differential-band-f', {points:bandPath(fDiffEnergy, fDiffUpper, fDiffLower, xF, yF), fill:'#b0b0b0', filter:'url(#noisy)'});
mk('line', 'vacuum-baseline-f', {x1:780, x2:1076, y1:558.3, y2:558.3, stroke:'#333', 'stroke-width':1.2, 'stroke-dasharray':'1.6 1.6'});
mk('line', 'ecutoff-line-f', {x1:xF(16.88), x2:xF(16.88), y1:370, y2:558.3, stroke:'#333', 'stroke-width':1.2, 'stroke-dasharray':'1.6 1.6'});
mk('line', 'efermi-tangent-f', {x1:1013.3, y1:547.3, x2:1040, y2:556.7, stroke:'#333', 'stroke-width':1.1, 'stroke-dasharray':'2 1.5'});
mk('path', 'spectrum-line-f', {d:spline(zip(fEnergy, fIntensity, xF, yF)), fill:'none', stroke:'#c8252d', 'stroke-width':2.1});
frame('plot-frame-f', 780, 335.3, 1076, 573.3);
xTicks('f', [20,16,12,8,4,0], upsTickLabels, [18,14,10,6,2], xF, 573.3, 591.7, 16.5);

// ---------- panel g ----------
mk('rect', 'band-diagram-background', {x:826.7, y:655, width:221.6, height:228.3, fill:'#f6f6f6'});
arrow('energy-axis', 835.7, 869.3, 835.7, 662, '#111', 1.7);
gTickValues.forEach((v, i) => {
  mk('line', 'g-y-tick', {x1:830, x2:835.7, y1:yG(v), y2:yG(v), stroke:'#111', 'stroke-width':1.5});
  const t = mk('text', 'g-y-tick-label', {x:821.7, y:yG(v)+5.8, 'font-size':16.5, 'text-anchor':'end', fill:'#222'});
  t.textContent = gTickLabels[i];
});
mk('rect', 'band-n-separate', {x:852.7, y:672.3, width:54.3, height:192, rx:7, fill:'#d53527'});
mk('rect', 'band-n-contacted', {x:942, y:672.3, width:53.3, height:192, rx:6, fill:'#d53527', stroke:'#333', 'stroke-width':1, 'stroke-dasharray':'1.5 1.5'});
mk('rect', 'band-p-contacted', {x:995.3, y:672.3, width:53, height:192, rx:7, fill:'#4a7ab8'});
gSeparateLevels.forEach(v => {
  mk('line', 'band-edge-separate', {x1:852.7, x2:907, y1:yG(v), y2:yG(v), stroke:'#0a0a0a', 'stroke-width':1.9});
});
mk('line', 'fermi-level-separate', {x1:852.7, x2:907, y1:yG(gSeparateFermi), y2:yG(gSeparateFermi), stroke:'#111', 'stroke-width':1.2, 'stroke-dasharray':'1.6 1.3'});
gContactNLevels.forEach(v => {
  mk('line', 'band-edge-contact-n', {x1:942, x2:995.3, y1:yG(v), y2:yG(v), stroke:'#0a0a0a', 'stroke-width':1.9});
});
gContactPLevels.forEach(v => {
  mk('line', 'band-edge-contact-p', {x1:995.3, x2:1048.3, y1:yG(v), y2:yG(v), stroke:'#0a0a0a', 'stroke-width':1.9});
});
mk('line', 'fermi-level-contact', {x1:942, x2:1048.3, y1:yG(gContactFermi), y2:yG(gContactFermi), stroke:'#111', 'stroke-width':1.2, 'stroke-dasharray':'1.6 1.3'});
mk('line', 'junction-divider', {x1:924, x2:924, y1:672.3, y2:866.7, stroke:'#111', 'stroke-width':1.4});
mk('path', 'electron-transfer-curve', {d:'M997 690 C978 692 968 712 979 728', fill:'none', stroke:'#111', 'stroke-width':1.8});
mk('polygon', 'electron-transfer-head', {points:'975,726 984,725 981,733', fill:'#111'});
mk('path', 'hole-transfer-curve', {d:'M993 824 C1012 822 1020 805 1013 788', fill:'none', stroke:'#f4f4f4', 'stroke-width':1.8});
mk('polygon', 'hole-transfer-head', {points:'1009,790 1018,790 1012,783', fill:'#f4f4f4'});
arrow('arrow-separate', 869, 655, 869, 668, '#111', 1.6);
arrow('arrow-contacted', 1021.7, 882.5, 1021.7, 870, '#111', 1.6);
</script>
</svg>
</body>
</html>
